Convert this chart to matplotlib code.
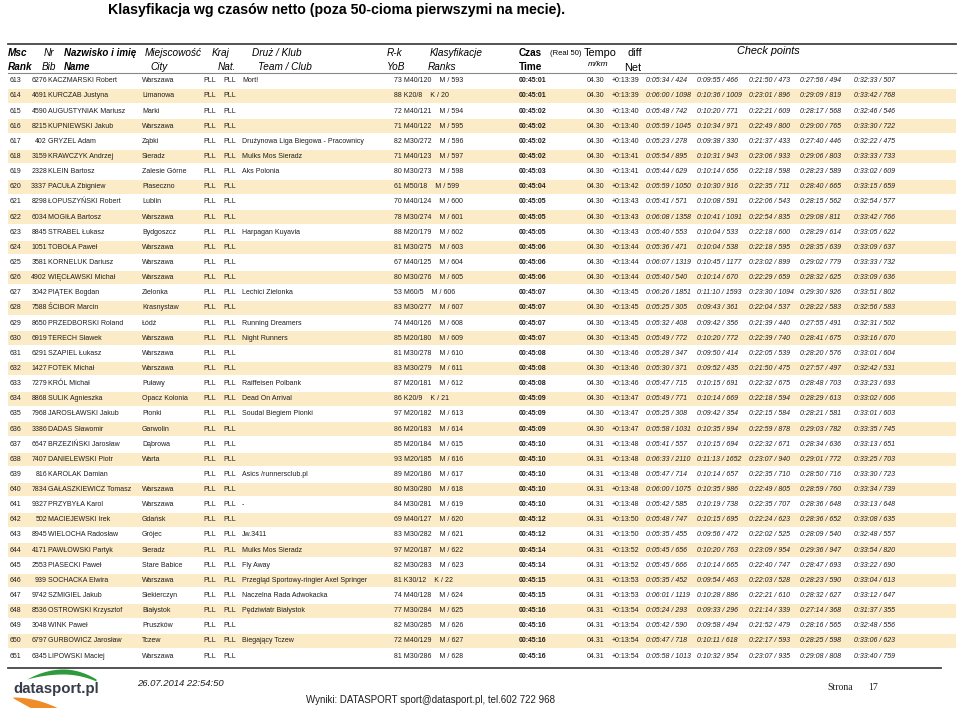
import numpy as np
import matplotlib
matplotlib.use("Agg")
import matplotlib.pyplot as plt
from matplotlib import font_manager

# ---- table data ----
ranks = [613, 614, 615, 616, 617, 618, 619, 620, 621, 622, 623, 624, 625,
         626, 627, 628, 629, 630, 631, 632, 633, 634, 635, 636, 637, 638,
         639, 640, 641, 642, 643, 644, 645, 646, 647, 648, 649, 650, 651]
bibs = [6276, 4691, 4590, 8215, 402, 3159, 2328, 3337, 8298, 6034, 8845, 1051, 3581,
        4902, 3042, 7588, 8650, 6919, 6291, 1427, 7279, 8868, 7968, 3386, 6647, 7407,
        816, 7834, 9327, 502, 8945, 4171, 2553, 939, 9742, 8536, 3048, 6797, 6345]
names = ["KACZMARSKI Robert", "KURCZAB Justyna", "AUGUSTYNIAK Mariusz", "KUPNIEWSKI Jakub",
         "GRYZEL Adam", "KRAWCZYK Andrzej", "KLEIN Bartosz", "PACUŁA Zbigniew",
         "ŁOPUSZYŃSKI Robert", "MOGIŁA Bartosz", "STRABEL Łukasz", "TOBOŁA Paweł",
         "KORNELUK Dariusz", "WIĘCŁAWSKI Michał", "PIĄTEK Bogdan", "ŚCIBOR Marcin",
         "PRZEDBORSKI Roland", "TERECH Sławek", "SZAPIEL Łukasz", "FOTEK Michał",
         "KRÓL Michał", "SULIK Agnieszka", "JAROSŁAWSKI Jakub", "DADAS Sławomir",
         "BRZEZIŃSKI Jarosław", "DANIELEWSKI Piotr", "KAROLAK Damian", "GAŁASZKIEWICZ Tomasz",
         "PRZYBYŁA Karol", "MACIEJEWSKI Irek", "WIELOCHA Radosław", "PAWŁOWSKI Partyk",
         "PIASECKI Paweł", "SOCHACKA Elwira", "SZMIGIEL Jakub", "OSTROWSKI Krzysztof",
         "WINK Paweł", "GURBOWICZ Jarosław", "LIPOWSKI Maciej"]
cities = ["Warszawa", "Limanowa", "Marki", "Warszawa", "Ząbki", "Sieradz", "Zalesie Górne",
          "Piaseczno", "Lublin", "Warszawa", "Bydgoszcz", "Warszawa", "Warszawa", "Warszawa",
          "Zielonka", "Krasnystaw", "Łódź", "Warszawa", "Warszawa", "Warszawa", "Puławy",
          "Opacz Kolonia", "Pionki", "Garwolin", "Dąbrowa", "Warta", "", "Warszawa",
          "Warszawa", "Gdańsk", "Grójec", "Sieradz", "Stare Babice", "Warszawa",
          "Siekierczyn", "Białystok", "Pruszków", "Tczew", "Warszawa"]
teams = ["Mort!", "", "", "", "Drużynowa Liga Biegowa - Pracownicy", "Mulks Mos Sieradz",
         "Aks Polonia", "", "", "", "Harpagan Kuyavia", "", "", "", "Lechici Zielonka", "",
         "Running Dreamers", "Night Runners", "", "", "Raiffeisen Polbank", "Dead On Arrival",
         "Soudal Biegiem Pionki", "", "", "", "Asics /runnersclub.pl", "", "-", "", "Jw.3411",
         "Mulks Mos Sieradz", "Fly Away", "Przegląd Sportowy-ringier Axel Springer",
         "Naczelna Rada Adwokacka", "Pędziwiatr Białystok", "", "Biegający Tczew", ""]
yob_cat = ["73 M40/120", "88 K20/8", "72 M40/121", "71 M40/122", "82 M30/272", "71 M40/123",
           "80 M30/273", "61 M50/18", "70 M40/124", "78 M30/274", "88 M20/179", "81 M30/275",
           "67 M40/125", "80 M30/276", "53 M60/5", "83 M30/277", "74 M40/126", "85 M20/180",
           "81 M30/278", "83 M30/279", "87 M20/181", "86 K20/9", "97 M20/182", "86 M20/183",
           "85 M20/184", "93 M20/185", "89 M20/186", "80 M30/280", "84 M30/281", "69 M40/127",
           "83 M30/282", "97 M20/187", "82 M30/283", "81 K30/12", "74 M40/128", "77 M30/284",
           "82 M30/285", "72 M40/129", "81 M30/286"]
class_ranks = ["M / 593", "K / 20", "M / 594", "M / 595", "M / 596", "M / 597", "M / 598",
               "M / 599", "M / 600", "M / 601", "M / 602", "M / 603", "M / 604", "M / 605",
               "M / 606", "M / 607", "M / 608", "M / 609", "M / 610", "M / 611", "M / 612",
               "K / 21", "M / 613", "M / 614", "M / 615", "M / 616", "M / 617", "M / 618",
               "M / 619", "M / 620", "M / 621", "M / 622", "M / 623", "K / 22", "M / 624",
               "M / 625", "M / 626", "M / 627", "M / 628"]
times = ["00:45:01", "00:45:01", "00:45:02", "00:45:02", "00:45:02", "00:45:02", "00:45:03",
         "00:45:04", "00:45:05", "00:45:05", "00:45:05", "00:45:06", "00:45:06", "00:45:06",
         "00:45:07", "00:45:07", "00:45:07", "00:45:07", "00:45:08", "00:45:08", "00:45:08",
         "00:45:09", "00:45:09", "00:45:09", "00:45:10", "00:45:10", "00:45:10", "00:45:10",
         "00:45:10", "00:45:12", "00:45:12", "00:45:14", "00:45:14", "00:45:15", "00:45:15",
         "00:45:16", "00:45:16", "00:45:16", "00:45:16"]
tempos = ["04.30"] * 24 + ["04.31"] * 15
diffs = ["+0:13:39", "+0:13:39", "+0:13:40", "+0:13:40", "+0:13:40", "+0:13:41", "+0:13:41",
         "+0:13:42", "+0:13:43", "+0:13:43", "+0:13:43", "+0:13:44", "+0:13:44", "+0:13:44",
         "+0:13:45", "+0:13:45", "+0:13:45", "+0:13:45", "+0:13:46", "+0:13:46", "+0:13:46",
         "+0:13:47", "+0:13:47", "+0:13:47", "+0:13:48", "+0:13:48", "+0:13:48", "+0:13:48",
         "+0:13:48", "+0:13:50", "+0:13:50", "+0:13:52", "+0:13:52", "+0:13:53", "+0:13:53",
         "+0:13:54", "+0:13:54", "+0:13:54", "+0:13:54"]
cp1 = ["0:05:34 / 424", "0:06:00 / 1098", "0:05:48 / 742", "0:05:59 / 1045", "0:05:23 / 278",
       "0:05:54 / 895", "0:05:44 / 629", "0:05:59 / 1050", "0:05:41 / 571", "0:06:08 / 1358",
       "0:05:40 / 553", "0:05:36 / 471", "0:06:07 / 1319", "0:05:40 / 540", "0:06:26 / 1851",
       "0:05:25 / 305", "0:05:32 / 408", "0:05:49 / 772", "0:05:28 / 347", "0:05:30 / 371",
       "0:05:47 / 715", "0:05:49 / 771", "0:05:25 / 308", "0:05:58 / 1031", "0:05:41 / 557",
       "0:06:33 / 2110", "0:05:47 / 714", "0:06:00 / 1075", "0:05:42 / 585", "0:05:48 / 747",
       "0:05:35 / 455", "0:05:45 / 656", "0:05:45 / 666", "0:05:35 / 452", "0:06:01 / 1119",
       "0:05:24 / 293", "0:05:42 / 590", "0:05:47 / 718", "0:05:58 / 1013"]
cp2 = ["0:09:55 / 466", "0:10:36 / 1009", "0:10:20 / 771", "0:10:34 / 971", "0:09:38 / 330",
       "0:10:31 / 943", "0:10:14 / 656", "0:10:30 / 916", "0:10:08 / 591", "0:10:41 / 1091",
       "0:10:04 / 533", "0:10:04 / 538", "0:10:45 / 1177", "0:10:14 / 670", "0:11:10 / 1593",
       "0:09:43 / 361", "0:09:42 / 356", "0:10:20 / 772", "0:09:50 / 414", "0:09:52 / 435",
       "0:10:15 / 691", "0:10:14 / 669", "0:09:42 / 354", "0:10:35 / 994", "0:10:15 / 694",
       "0:11:13 / 1652", "0:10:14 / 657", "0:10:35 / 986", "0:10:19 / 738", "0:10:15 / 695",
       "0:09:56 / 472", "0:10:20 / 763", "0:10:14 / 665", "0:09:54 / 463", "0:10:28 / 886",
       "0:09:33 / 296", "0:09:58 / 494", "0:10:11 / 618", "0:10:32 / 954"]
cp3 = ["0:21:50 / 473", "0:23:01 / 896", "0:22:21 / 609", "0:22:49 / 800", "0:21:37 / 433",
       "0:23:06 / 933", "0:22:18 / 598", "0:22:35 / 711", "0:22:06 / 543", "0:22:54 / 835",
       "0:22:18 / 600", "0:22:18 / 595", "0:23:02 / 899", "0:22:29 / 659", "0:23:30 / 1094",
       "0:22:04 / 537", "0:21:39 / 440", "0:22:39 / 740", "0:22:05 / 539", "0:21:50 / 475",
       "0:22:32 / 675", "0:22:18 / 594", "0:22:15 / 584", "0:22:59 / 878", "0:22:32 / 671",
       "0:23:07 / 940", "0:22:35 / 710", "0:22:49 / 805", "0:22:35 / 707", "0:22:24 / 623",
       "0:22:02 / 525", "0:23:09 / 954", "0:22:40 / 747", "0:22:03 / 528", "0:22:21 / 610",
       "0:21:14 / 339", "0:21:52 / 479", "0:22:17 / 593", "0:23:07 / 935"]
cp4 = ["0:27:56 / 494", "0:29:09 / 819", "0:28:17 / 568", "0:29:00 / 765", "0:27:40 / 446",
       "0:29:06 / 803", "0:28:23 / 589", "0:28:40 / 665", "0:28:15 / 562", "0:29:08 / 811",
       "0:28:29 / 614", "0:28:35 / 639", "0:29:02 / 779", "0:28:32 / 625", "0:29:30 / 926",
       "0:28:22 / 583", "0:27:55 / 491", "0:28:41 / 675", "0:28:20 / 576", "0:27:57 / 497",
       "0:28:48 / 703", "0:28:29 / 613", "0:28:21 / 581", "0:29:03 / 782", "0:28:34 / 636",
       "0:29:01 / 772", "0:28:50 / 716", "0:28:59 / 760", "0:28:36 / 648", "0:28:36 / 652",
       "0:28:09 / 540", "0:29:36 / 947", "0:28:47 / 693", "0:28:23 / 590", "0:28:32 / 627",
       "0:27:14 / 368", "0:28:16 / 565", "0:28:25 / 598", "0:29:08 / 808"]
cp5 = ["0:32:33 / 507", "0:33:42 / 768", "0:32:46 / 546", "0:33:30 / 722", "0:32:22 / 475",
       "0:33:33 / 733", "0:33:02 / 609", "0:33:15 / 659", "0:32:54 / 577", "0:33:42 / 766",
       "0:33:05 / 622", "0:33:09 / 637", "0:33:33 / 732", "0:33:09 / 636", "0:33:51 / 802",
       "0:32:56 / 583", "0:32:31 / 502", "0:33:16 / 670", "0:33:01 / 604", "0:32:42 / 531",
       "0:33:23 / 693", "0:33:02 / 606", "0:33:01 / 603", "0:33:35 / 745", "0:33:13 / 651",
       "0:33:25 / 703", "0:33:30 / 723", "0:33:34 / 739", "0:33:13 / 648", "0:33:08 / 635",
       "0:32:48 / 557", "0:33:54 / 820", "0:33:22 / 690", "0:33:04 / 613", "0:33:12 / 647",
       "0:31:37 / 355", "0:32:48 / 556", "0:33:06 / 623", "0:33:40 / 759"]
NAT = "PLL"

# ---- fonts ----
avail = {f.name for f in font_manager.fontManager.ttflist}
if "Liberation Sans Narrow" in avail:
    NARROW, ROW_FS = "Liberation Sans Narrow", 6.0
else:
    NARROW, ROW_FS = "Liberation Sans", 5.0
SANS = "Liberation Sans"
SERIF = "Liberation Serif"
BAND = "#fbebc6"
INK = "#1e1e1e"

fig = plt.figure(figsize=(9.6, 7.08), dpi=100)
ax = fig.add_axes([0, 0, 1, 1])
ax.set_xlim(0, 960)
ax.set_ylim(708, 0)
ax.axis("off")


def put(x, y, s, fam=SANS, fs=7.2, **kw):
    ax.text(x, y, s, fontfamily=fam, fontsize=fs, va="center", **kw)


# title
put(108, 10, "Klasyfikacja wg czasów netto (poza 50-cioma pierwszymi na mecie).",
    fs=10.2, fontweight="bold", color="black")

# header
ax.plot([8, 956], [43.5, 43.5], color="#444444", lw=1.3)
ax.plot([8, 956], [72.5, 72.5], color="#888888", lw=0.8)
h1, h2 = 53.5, 66.5
put(8, h1, "Msc", fontweight="bold", fontstyle="italic")
put(8, h2, "Rank", fontweight="bold", fontstyle="italic")
put(44, h1, "Nr", fontstyle="italic")
put(42, h2, "Bib", fontstyle="italic")
put(64, h1, "Nazwisko i imię", fs=7.0, fontweight="bold", fontstyle="italic")
put(64, h2, "Name", fs=7.0, fontweight="bold", fontstyle="italic")
put(145, h1, "Miejscowość", fontstyle="italic")
put(150, h2, "City", fontstyle="italic")
put(212, h1, "Kraj", fontstyle="italic")
put(218, h2, "Nat.", fontstyle="italic")
put(252, h1, "Druż / Klub", fontstyle="italic")
put(258, h2, "Team / Club", fontstyle="italic")
put(387, h1, "R-k", fontstyle="italic")
put(387, h2, "YoB", fontstyle="italic")
put(430, h1, "Klasyfikacje", fontstyle="italic")
put(428, h2, "Ranks", fontstyle="italic")
put(519, h1, "Czas", fontweight="bold")
put(519, h2, "Time", fontweight="bold")
put(550, h1, "(Real 50)", fs=5.5)
put(584, h1, "Tempo", fs=7.8)
put(588, 64.5, "m/km", fs=6, fontstyle="italic")
put(627, h1, "diff", fs=7.8)
put(624, 68, "Net", fs=7.8)
put(737, 51, "Check points", fs=7.8, fontstyle="italic")

# rows
row_y = 80.8 + 15.14 * np.arange(len(ranks))
shade = np.arange(len(ranks)) % 2 == 1
ax.barh(row_y[shade], 948, left=8, height=13.6, color=BAND, zorder=0)

for i, y in enumerate(row_y):
    kw = dict(fam=NARROW, fs=ROW_FS, color=INK)
    put(10, y, str(ranks[i]), **kw)
    put(47, y, str(bibs[i]), ha="right", **kw)
    put(48.5, y, names[i], **kw)
    put(142, y, cities[i], **kw)
    put(203, y, NAT, **kw)
    put(223, y, NAT, **kw)
    put(242, y, teams[i], **kw)
    put(394, y, yob_cat[i] + "    " + class_ranks[i], **kw)
    put(519, y, times[i], fontweight="bold", **kw)
    put(604, y, tempos[i], ha="right", **kw)
    put(612, y, diffs[i], **kw)
    for x, col in zip([646, 697, 749, 800, 854], [cp1, cp2, cp3, cp4, cp5]):
        put(x, y, col[i], fontstyle="italic", **kw)

# footer
ax.plot([8, 941], [667.5, 667.5], color="#444444", lw=1.3)
# logo swooshes
gx = np.linspace(27, 96, 80)
u = np.where(gx < 63, (gx - 63) / 36, (gx - 63) / 33)
ax.fill_between(gx, 669 + 10 * u ** 2, 674 + np.where(gx < 63, 5, 7) * u ** 2,
                color="#2f9a3c", lw=0)
ox = np.linspace(13, 58, 60)
s = (ox - 13) / 45
ax.fill_between(ox, 697 + 11 * s ** 2, 698 + 25 * s, color="#f08c28", lw=0)
put(13, 689, "datasport.pl", fs=10.8, fontweight="bold", color="#363c48")
put(137, 683, "26.07.2014 22:54:50", fs=6.8, fontstyle="italic", color=INK)
put(306, 700, "Wyniki: DATASPORT sport@datasport.pl, tel.602 722 968", fs=7, color=INK)
put(827, 687, "Strona", fam=SERIF, fs=7, color=INK)
put(868, 687, "17", fam=SERIF, fs=7, color=INK)

fig.savefig("out.png", dpi=100)
